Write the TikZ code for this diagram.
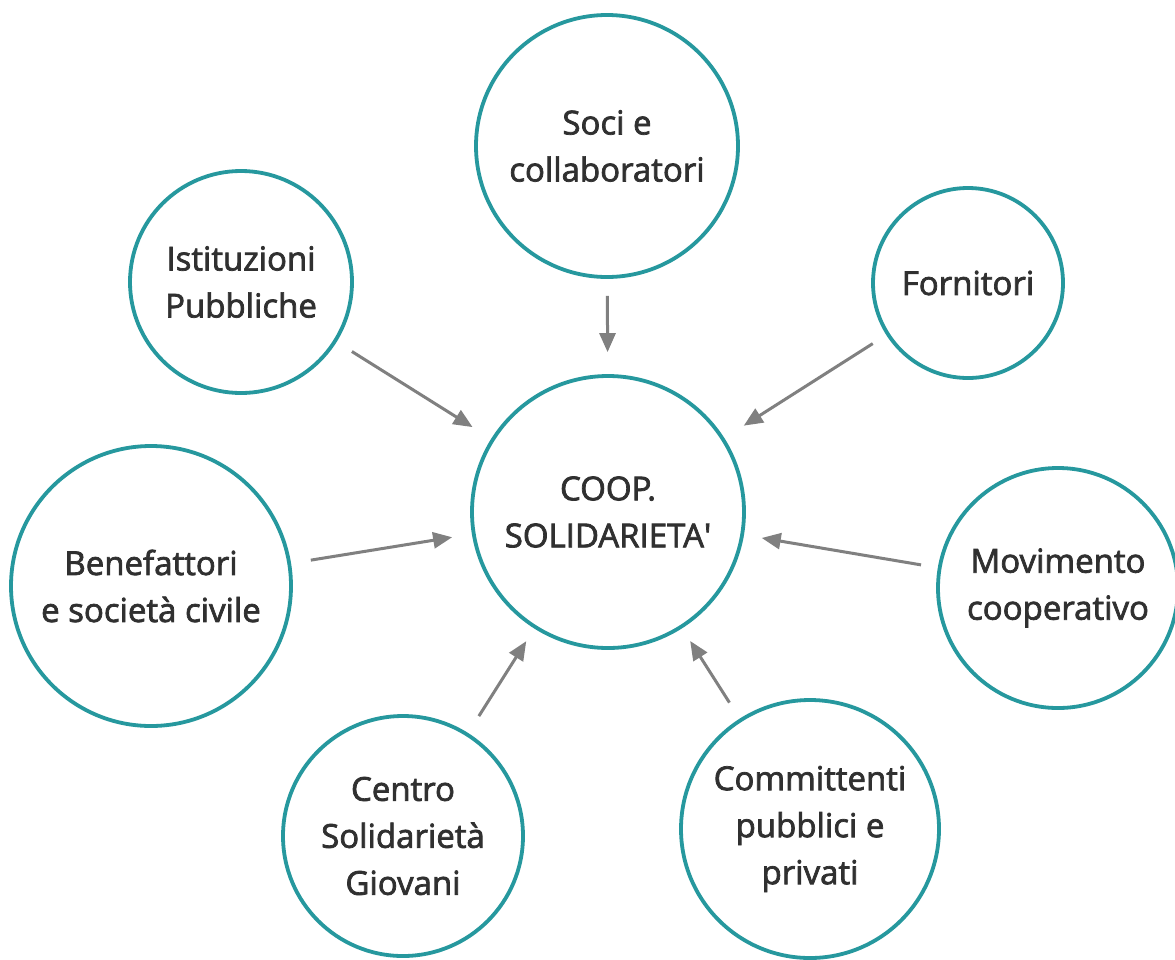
\documentclass[tikz,border=0pt]{standalone}
\usepackage{fontspec}
\setmainfont{Open Sans}[BoldFont={Open Sans}, BoldFeatures={FakeBold=2.2}]
\usetikzlibrary{arrows.meta}
\definecolor{ringcol}{RGB}{38,152,158}
\definecolor{arrcol}{RGB}{128,128,128}
\definecolor{txtcol}{RGB}{48,48,48}
\begin{document}
\begin{tikzpicture}[x=1pt,y=-1pt,
  ring/.style={circle, draw=ringcol, line width=3.8pt, fill=white, inner sep=0pt,
    align=center, text=txtcol, font=\fontsize{33}{47}\selectfont\bfseries},
  flow/.style={draw=arrcol, line width=3pt, -{Triangle[length=19pt,width=16pt]}}]
\useasboundingbox (0,0) rectangle (1175,959);
\fill[white] (0,0) rectangle (1175,959);
% nodes
\node[ring, minimum size=272pt] (coop) at (608,512) {COOP.\\SOLIDARIETA\textquotesingle};
\node[ring, minimum size=262pt] (soci) at (607,146) {Soci e\\collaboratori};
\node[ring, minimum size=222pt] (ist) at (241,282) {Istituzioni\\Pubbliche};
\node[ring, minimum size=190pt] (forn) at (968,283) {Fornitori};
\node[ring, minimum size=280pt] (bene) at (151,586) {Benefattori\\e società civile};
\node[ring, minimum size=240pt] (movi) at (1058,588) {Movimento\\cooperativo};
\node[ring, minimum size=240pt] (centro) at (403,836) {Centro\\Solidarietà\\Giovani};
\node[ring, minimum size=258pt] (comm) at (810,829) {Committenti\\pubblici e\\privati};
% connectors
\draw[flow, shorten <=17pt, shorten >=22pt] (soci) -- (coop);
\draw[flow, shorten <=18pt, shorten >=22pt] (ist) -- (coop);
\draw[flow, shorten <=16pt, shorten >=23pt] (forn) -- (coop);
\draw[flow, shorten <=20pt, shorten >=20pt] (bene) -- (coop);
\draw[flow, shorten <=17pt, shorten >=18pt] (movi) -- (coop);
\draw[flow, shorten <=20pt, shorten >=15pt] (centro) -- (coop);
\draw[flow, shorten <=19pt, shorten >=15pt] (comm) -- (coop);
\end{tikzpicture}
\end{document}
